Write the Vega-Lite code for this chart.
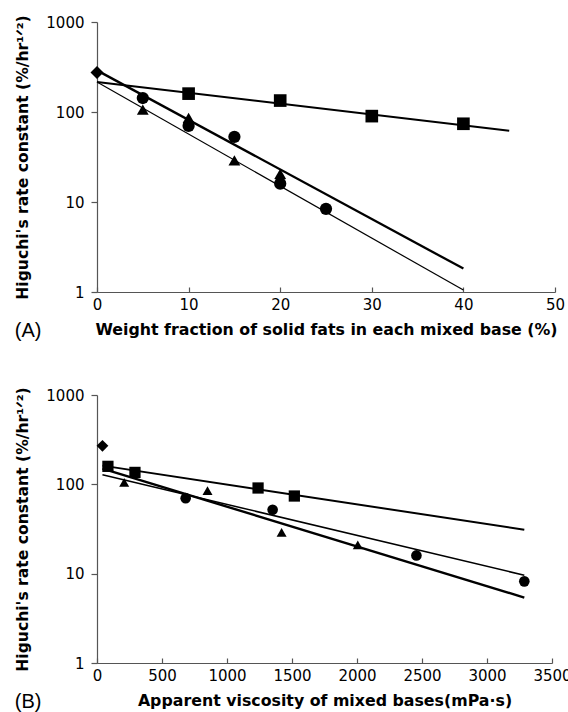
{
  "$schema": "https://vega.github.io/schema/vega-lite/v6.json",
  "background": "white",
  "padding": {"left": 14, "top": 14, "right": 0, "bottom": 0},
  "spacing": 45,
  "datasets": {
    "ptsA": [
      {"group": "D", "x": 0, "k": 275},
      {"group": "S", "x": 10, "k": 160},
      {"group": "S", "x": 20, "k": 134},
      {"group": "S", "x": 30, "k": 90},
      {"group": "S", "x": 40, "k": 74},
      {"group": "C", "x": 5, "k": 143},
      {"group": "C", "x": 10, "k": 70},
      {"group": "C", "x": 15, "k": 53},
      {"group": "C", "x": 20, "k": 16},
      {"group": "C", "x": 25, "k": 8.4},
      {"group": "T", "x": 5, "k": 106},
      {"group": "T", "x": 10, "k": 86},
      {"group": "T", "x": 15, "k": 29},
      {"group": "T", "x": 20, "k": 20.5}
    ],
    "fitA": [
      {"group": "S", "x": 0, "k": 215},
      {"group": "S", "x": 45, "k": 62},
      {"group": "T", "x": 0, "k": 290},
      {"group": "T", "x": 40, "k": 1.82},
      {"group": "C", "x": 0, "k": 215},
      {"group": "C", "x": 40, "k": 1.05}
    ],
    "ptsB": [
      {"group": "D", "x": 42, "k": 270},
      {"group": "S", "x": 84, "k": 159},
      {"group": "S", "x": 292, "k": 136},
      {"group": "S", "x": 1239, "k": 91},
      {"group": "S", "x": 1518, "k": 74},
      {"group": "C", "x": 682, "k": 70},
      {"group": "C", "x": 1351, "k": 52},
      {"group": "C", "x": 2457, "k": 16},
      {"group": "C", "x": 3287, "k": 8.2},
      {"group": "T", "x": 209, "k": 105},
      {"group": "T", "x": 850, "k": 85},
      {"group": "T", "x": 1420, "k": 29},
      {"group": "T", "x": 2006, "k": 21}
    ],
    "fitB": [
      {"group": "S", "x": 42, "k": 162},
      {"group": "S", "x": 3287, "k": 31},
      {"group": "C", "x": 42, "k": 128},
      {"group": "C", "x": 3287, "k": 9.6},
      {"group": "T", "x": 42, "k": 150},
      {"group": "T", "x": 3287, "k": 5.4}
    ]
  },
  "config": {
    "view": {"stroke": null},
    "font": "DejaVu Sans",
    "axis": {
      "grid": false,
      "domainColor": "#555",
      "tickColor": "#555",
      "domainWidth": 1.2,
      "tickWidth": 1.2,
      "labelFont": "DejaVu Sans",
      "labelFontSize": 15,
      "labelColor": "#000",
      "titleFont": "DejaVu Sans",
      "titleFontSize": 15.8,
      "titleFontWeight": "bold",
      "titleColor": "#000"
    },
    "axisX": {"tickSize": -5, "labelPadding": 10, "titlePadding": 10, "labelFlush": false, "labelOverlap": false},
    "axisY": {"tickSize": 6, "labelPadding": 7, "titleFontSize": 15.6, "titlePadding": 15},
    "title": {"font": "Liberation Sans", "fontSize": 20, "fontWeight": "normal", "color": "#000"}
  },
  "resolve": {"scale": {"size": "independent", "shape": "independent"}},
  "vconcat": [
    {
      "width": 458,
      "height": 270,
      "title": {"text": "(A)", "orient": "bottom", "anchor": "start", "frame": "bounds", "offset": -16, "dx": -1},
      "encoding": {
        "x": {"field": "x", "type": "quantitative", "scale": {"domain": [0, 50]}, "axis": {"values": [0, 10, 20, 30, 40, 50], "title": "Weight fraction of solid fats in each mixed base (%)"}},
        "y": {"field": "k", "type": "quantitative", "scale": {"type": "log", "domain": [1, 1000]}, "axis": {"values": [1, 10, 100, 1000], "format": "d", "title": "Higuchi's rate constant (%/hr¹ᐟ²)"}}
      },
      "layer": [
        {
          "data": {"name": "fitA"},
          "transform": [{"filter": "datum.group === 'S'"}],
          "mark": {"type": "line", "color": "black", "strokeWidth": 2},
          "encoding": {}
        },
        {
          "data": {"name": "fitA"},
          "transform": [{"filter": "datum.group === 'T'"}],
          "mark": {"type": "line", "color": "black", "strokeWidth": 2.3},
          "encoding": {}
        },
        {
          "data": {"name": "fitA"},
          "transform": [{"filter": "datum.group === 'C'"}],
          "mark": {"type": "line", "color": "black", "strokeWidth": 1.2},
          "encoding": {}
        },
        {
          "data": {"name": "ptsA"},
          "mark": {"type": "point", "filled": true, "color": "black", "opacity": 1},
          "encoding": {
            "shape": {"field": "group", "type": "nominal", "scale": {"domain": ["D", "S", "C", "T"], "range": ["diamond", "square", "circle", "triangle-up"]}, "legend": null},
            "size": {"field": "group", "type": "nominal", "scale": {"domain": ["D", "S", "C", "T"], "range": [170, 140, 125, 320]}, "legend": null}
          }
        }
      ]
    },
    {
      "width": 455,
      "height": 268,
      "title": {"text": "(B)", "orient": "bottom", "anchor": "start", "frame": "bounds", "offset": -16, "dx": -1},
      "encoding": {
        "x": {"field": "x", "type": "quantitative", "scale": {"domain": [0, 3500]}, "axis": {"values": [0, 500, 1000, 1500, 2000, 2500, 3000, 3500], "format": "d", "title": "Apparent viscosity of mixed bases(mPa·s)"}},
        "y": {"field": "k", "type": "quantitative", "scale": {"type": "log", "domain": [1, 1000]}, "axis": {"values": [1, 10, 100, 1000], "format": "d", "title": "Higuchi's rate constant (%/hr¹ᐟ²)"}}
      },
      "layer": [
        {
          "data": {"name": "fitB"},
          "transform": [{"filter": "datum.group === 'S'"}],
          "mark": {"type": "line", "color": "black", "strokeWidth": 2},
          "encoding": {}
        },
        {
          "data": {"name": "fitB"},
          "transform": [{"filter": "datum.group === 'T'"}],
          "mark": {"type": "line", "color": "black", "strokeWidth": 2.4},
          "encoding": {}
        },
        {
          "data": {"name": "fitB"},
          "transform": [{"filter": "datum.group === 'C'"}],
          "mark": {"type": "line", "color": "black", "strokeWidth": 1.5},
          "encoding": {}
        },
        {
          "data": {"name": "ptsB"},
          "mark": {"type": "point", "filled": true, "color": "black", "opacity": 1},
          "encoding": {
            "shape": {"field": "group", "type": "nominal", "scale": {"domain": ["D", "S", "C", "T"], "range": ["diamond", "square", "circle", "triangle-up"]}, "legend": null},
            "size": {"field": "group", "type": "nominal", "scale": {"domain": ["D", "S", "C", "T"], "range": [140, 100, 125, 300]}, "legend": null}
          }
        }
      ]
    }
  ]
}
